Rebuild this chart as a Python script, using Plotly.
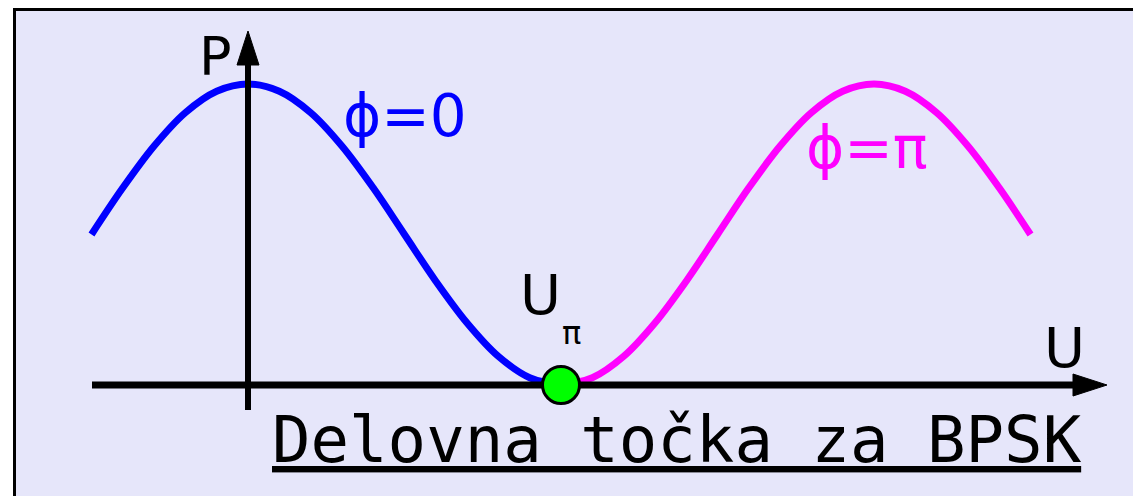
import plotly.graph_objects as go

# Data (U in units of U_pi, P normalised to peak)
u_blue = [-0.5, -0.4, -0.3, -0.2, -0.1, 0.0, 0.1, 0.2, 0.3, 0.4, 0.5, 0.6, 0.7, 0.8, 0.9, 1.0]
p_blue = [0.50, 0.655, 0.794, 0.905, 0.976, 1.0, 0.976, 0.905, 0.794, 0.655, 0.50, 0.345, 0.206, 0.095, 0.024, 0.0]
u_mag = [1.0, 1.1, 1.2, 1.3, 1.4, 1.5, 1.6, 1.7, 1.8, 1.9, 2.0, 2.1, 2.2, 2.3, 2.4, 2.5]
p_mag = [0.0, 0.024, 0.095, 0.206, 0.345, 0.50, 0.655, 0.794, 0.905, 0.976, 1.0, 0.976, 0.905, 0.794, 0.655, 0.50]
u_point = [1.0]
p_point = [0.0]

labels = {"p": "P", "u": "U", "upi": "U", "pi": "π",
          "phi0": "ϕ=0", "phipi": "ϕ=π", "title": "Delovna točka za BPSK"}

W, H = 1133, 496
X0PX, SX = 248, 313   # pixel of U=0, px per unit
Y0PX, SY = 385, 301   # pixel of P=0, px per unit
xr = [-X0PX / SX, (W - X0PX) / SX]
yr = [(Y0PX - H) / SY, Y0PX / SY]

def ux(px):
    return (px - X0PX) / SX

def py(pyx):
    return (Y0PX - pyx) / SY

fig = go.Figure()
fig.add_trace(go.Scatter(x=u_blue, y=p_blue, mode="lines", line=dict(color="#0000FF", width=7, shape="spline"),
                         hoverinfo="skip"))
fig.add_trace(go.Scatter(x=u_mag, y=p_mag, mode="lines", line=dict(color="#FF00FF", width=7, shape="spline"),
                         hoverinfo="skip"))
# axes lines
fig.add_trace(go.Scatter(x=[ux(92), ux(1075)], y=[0, 0], mode="lines", line=dict(color="black", width=7),
                         hoverinfo="skip"))
fig.add_trace(go.Scatter(x=[0, 0], y=[py(410), py(63)], mode="lines", line=dict(color="black", width=6),
                         hoverinfo="skip"))
# arrowheads
fig.add_trace(go.Scatter(x=[ux(1073), ux(1107), ux(1073), ux(1073)], y=[py(374), 0, py(396), py(374)],
                         mode="lines", fill="toself", fillcolor="black", line=dict(color="black", width=1),
                         hoverinfo="skip"))
fig.add_trace(go.Scatter(x=[ux(237), 0, ux(259), ux(237)], y=[py(65), py(31), py(65), py(65)],
                         mode="lines", fill="toself", fillcolor="black", line=dict(color="black", width=1),
                         hoverinfo="skip"))
# operating point
fig.add_trace(go.Scatter(x=u_point, y=p_point, mode="markers",
                         marker=dict(size=37, color="#00FF00", line=dict(color="black", width=3)),
                         hoverinfo="skip"))

font = "DejaVu Sans"
ann = [
    dict(x=ux(215), y=py(56), text=labels["p"], size=54, color="black", f=font),
    dict(x=ux(1064), y=py(347), text=labels["u"], size=56, color="black", f=font),
    dict(x=ux(540), y=py(294), text=labels["upi"], size=56, color="black", f=font),
    dict(x=ux(571), y=py(333), text=labels["pi"], size=32, color="black", f=font),
    dict(x=ux(405), y=py(116), text=labels["phi0"], size=58, color="#0000FF", f=font),
    dict(x=ux(867), y=py(148), text=labels["phipi"], size=58, color="#FF00FF", f=font),
    dict(x=ux(677), y=py(440), text="<u>" + labels["title"] + "</u>", size=64, color="black", f="DejaVu Sans Mono"),
]
for a in ann:
    fig.add_annotation(x=a["x"], y=a["y"], xref="x", yref="y", text=a["text"], showarrow=False,
                       font=dict(family=a["f"], size=a["size"], color=a["color"]),
                       xanchor="center", yanchor="middle")

fig.add_shape(type="rect", xref="paper", yref="paper", x0=14.5 / W, x1=1.02, y0=-0.05, y1=1 - 9.5 / H,
              line=dict(color="black", width=3), fillcolor="#E6E6FA", layer="below")

fig.update_layout(width=W, height=H, margin=dict(l=0, r=0, t=0, b=0),
                  paper_bgcolor="white", plot_bgcolor="rgba(0,0,0,0)", showlegend=False,
                  xaxis=dict(range=xr, visible=False, fixedrange=True),
                  yaxis=dict(range=yr, visible=False, fixedrange=True))
fig.write_html("out.html", config={"displayModeBar": False, "staticPlot": True},
               post_script="document.body.style.margin='0';document.body.style.overflow='hidden';")
